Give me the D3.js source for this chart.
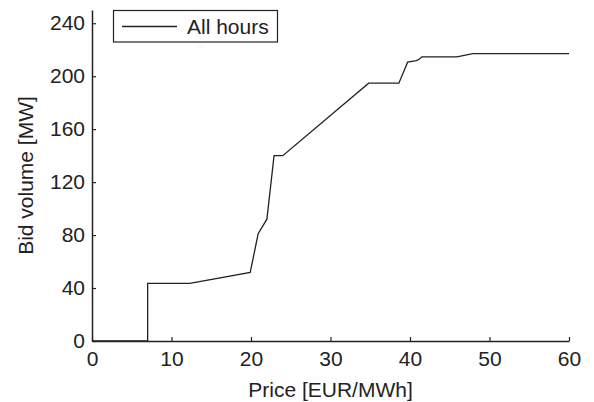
<!DOCTYPE html>
<html>
<head>
<meta charset="utf-8">
<script src="https://cdn.jsdelivr.net/npm/d3@7"></script>
<style>
  body { margin: 0; background: #fff; }
  svg text { font-family: "Liberation Sans", Arial, sans-serif; fill: #222; }
</style>
</head>
<body>
<div id="chart"></div>
<script>
// bid curve
const price  = [0, 7.0, 7.0, 12.3, 19.9, 20.9, 22.0, 22.9, 24.0, 34.8, 38.6, 39.7, 40.8, 41.2, 41.5, 45.9, 47.9, 60];
const volume = [0, 0, 43.5, 43.5, 51.8, 81, 92, 140, 140, 194.7, 194.7, 210.6, 211.8, 213, 214.6, 214.6, 217.1, 217.1];
const xTicks = [0, 10, 20, 30, 40, 50, 60];
const yTicks = [0, 40, 80, 120, 160, 200, 240];
const seriesName = "All hours";

const width = 594, height = 402;
const margin = { top: 10, right: 25, bottom: 61, left: 92 };
const fontSize = "21px";

const svg = d3.select("#chart").append("svg")
    .attr("width", width)
    .attr("height", height);

const x = d3.scaleLinear().domain([0, 60]).range([margin.left, width - margin.right]);
const y = d3.scaleLinear().domain([0, 250]).range([height - margin.bottom, margin.top]);

// axes, ticks pointing inward
const xAxis = svg.append("g")
    .attr("transform", `translate(0,${y(0)})`)
    .call(d3.axisBottom(x).tickValues(xTicks).tickSizeInner(-4).tickSizeOuter(0).tickPadding(10));
const yAxis = svg.append("g")
    .attr("transform", `translate(${x(0)},0)`)
    .call(d3.axisLeft(y).tickValues(yTicks).tickSizeInner(-4).tickSizeOuter(0).tickPadding(7));

[xAxis, yAxis].forEach(g => {
    g.select(".domain").attr("stroke", "#222").attr("stroke-width", 1.5);
    g.selectAll(".tick line").attr("stroke", "#222").attr("stroke-width", 1.2);
    g.selectAll(".tick text").style("font-size", fontSize).attr("fill", "#222");
});
xAxis.selectAll(".tick text").attr("dy", "0.7em");

// bid curve
const pts = price.map((p, i) => [p, volume[i]]);
svg.append("path")
    .datum(pts)
    .attr("fill", "none")
    .attr("stroke", "#222")
    .attr("stroke-width", 1.3)
    .attr("d", d3.line().x(d => x(d[0])).y(d => y(d[1])));

// axis titles
svg.append("text")
    .attr("x", (x(0) + x(60)) / 2)
    .attr("y", 397)
    .attr("text-anchor", "middle")
    .style("font-size", fontSize)
    .text("Price [EUR/MWh]");

svg.append("text")
    .attr("transform", `translate(33,${(y(0) + y(250)) / 2}) rotate(-90)`)
    .attr("text-anchor", "middle")
    .style("font-size", fontSize)
    .text("Bid volume [MW]");

// legend
const legend = svg.append("g");
legend.append("rect")
    .attr("x", 113.5).attr("y", 10.5)
    .attr("width", 164).attr("height", 31.5)
    .attr("fill", "#fff")
    .attr("stroke", "#222")
    .attr("stroke-width", 1.2);
legend.append("line")
    .attr("x1", 122).attr("x2", 177)
    .attr("y1", 26.5).attr("y2", 26.5)
    .attr("stroke", "#222")
    .attr("stroke-width", 1.3);
legend.append("text")
    .attr("x", 187).attr("y", 34)
    .style("font-size", fontSize)
    .text(seriesName);
</script>
</body>
</html>
